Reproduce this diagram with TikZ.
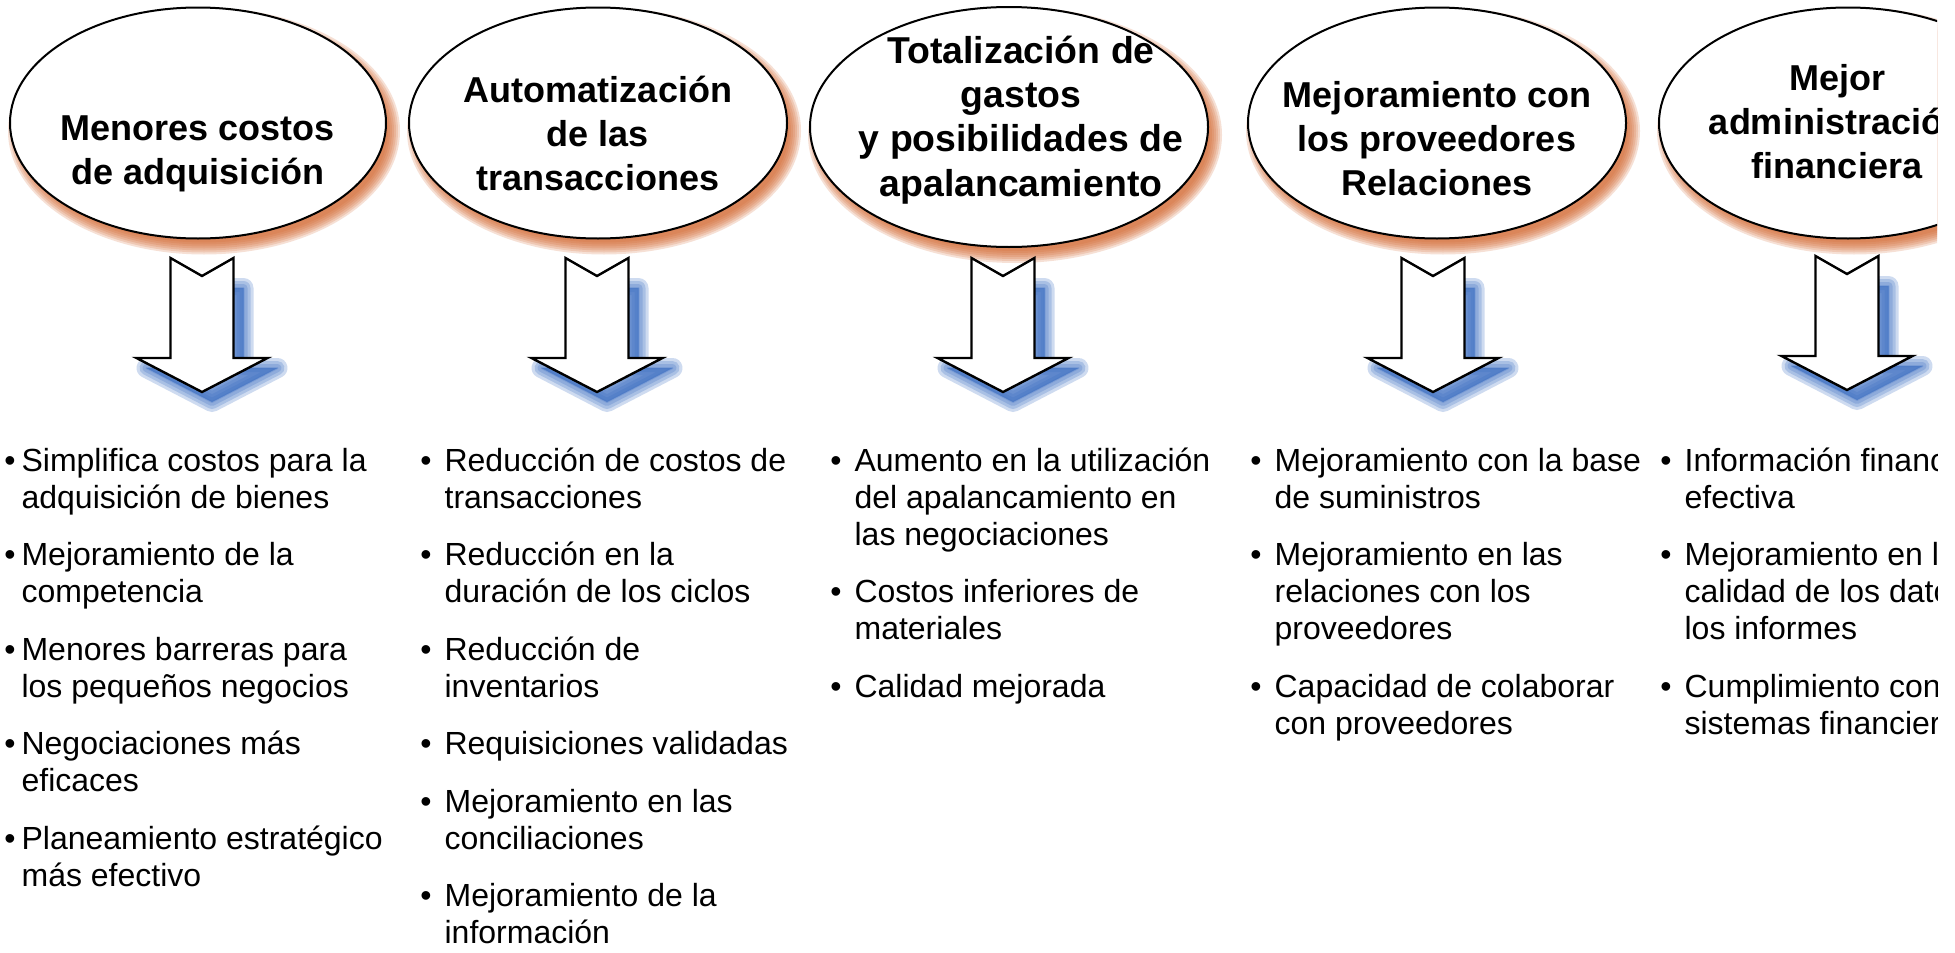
\documentclass[tikz,border=0pt]{standalone}
\usepackage{fontspec}
\setmainfont{Liberation Sans}
\usetikzlibrary{shapes.geometric}
\usetikzlibrary{positioning}

\definecolor{shadoworange}{RGB}{212,104,48}
\definecolor{shadowblue}{RGB}{62,112,196}

\tikzset{
  goal/.style={ellipse, draw=black, line width=1pt, fill=white, inner sep=0pt},
  goaltitle/.style={font=\bfseries\fontsize{18}{22}\selectfont, inner sep=0pt, anchor=base},
  benefits/.style={font=\fontsize{16}{18.5}\selectfont, inner sep=0pt, anchor=base west},
  bigarrow/.pic={
    \foreach \w in {10pt,7pt,4pt,1pt}
      \filldraw[shadowblue, opacity=0.25, line width=\w, line join=round]
        (-21.5,30) -- (41.5,30) -- (41.5,110) -- (75.5,110) -- (10,144) -- (-55.5,110) -- (-21.5,110) -- cycle;
    \filldraw[fill=white, draw=black, line width=1.2pt]
      (-31.5,0) -- (0,18) -- (31.5,0) -- (31.5,100) -- (65.5,100) -- (0,134) -- (-65.5,100) -- (-31.5,100) -- cycle;
  }
}

\begin{document}
\begin{tikzpicture}[x=0.5pt,y=-0.5pt]
\useasboundingbox (0,0) rectangle (1955,953);
\fill[white] (0,0) rectangle (1955,953);
\clip (0,0) rectangle (1937,953);

% ellipses with their shadows
\foreach \n/\cx/\cy/\rx/\ry in {1/198/123/188/115.5, 2/598/123/189/115.5, 3/1009/127/199/120, 4/1437/123/189/115.5, 5/1848/123/189/115.5}{
  \foreach \d in {0,2,...,12}
    \fill[shadoworange, opacity=0.2] (\cx+6,\cy+8) ellipse [x radius=\rx+\d-4, y radius=\ry+\d-4];
  \node[goal, minimum width=\rx pt, minimum height=\ry pt] (e\n) at (\cx,\cy) {};
}

\node[goaltitle] (t1) at (198,140) {\begin{tabular}[t]{@{}c@{}}Menores costos\\de adquisición\end{tabular}};
\node[goaltitle] (t2) at (598,102) {\begin{tabular}[t]{@{}c@{}}Automatización\\de las\\transacciones\end{tabular}};
\node[goaltitle, font=\bfseries\fontsize{18.7}{22.2}\selectfont] (t3) at (1021,63) {\begin{tabular}[t]{@{}c@{}}Totalización de\\gastos\\y posibilidades de\\apalancamiento\end{tabular}};
\node[goaltitle] (t4) at (1437,107) {\begin{tabular}[t]{@{}c@{}}Mejoramiento con\\los proveedores\\Relaciones\end{tabular}};
\node[goaltitle] (t5) at (1837,90) {\begin{tabular}[t]{@{}c@{}}Mejor\\administración\\financiera\end{tabular}};

% arrows
\pic at (202,258) {bigarrow};
\pic at (597,258) {bigarrow};
\pic at (1003,258) {bigarrow};
\pic at (1433,258) {bigarrow};
\pic at (1847,256) {bigarrow};

% lists
\node[benefits] (l1) at (4,471) {\begin{tabular}[t]{@{}l@{\hspace{3pt}}l@{}}
\textbullet & Simplifica costos para la\\ & adquisición de bienes\\[10.25pt]
\textbullet & Mejoramiento de la\\ & competencia\\[10.25pt]
\textbullet & Menores barreras para\\ & los pequeños negocios\\[10.25pt]
\textbullet & Negociaciones más\\ & eficaces\\[10.25pt]
\textbullet & Planeamiento estratégico\\ & más efectivo
\end{tabular}};
\node[benefits] (l2) at (420,471) {\begin{tabular}[t]{@{}l@{\hspace{6.5pt}}l@{}}
\textbullet & Reducción de costos de\\ & transacciones\\[10.25pt]
\textbullet & Reducción en la\\ & duración de los ciclos\\[10.25pt]
\textbullet & Reducción de\\ & inventarios\\[10.25pt]
\textbullet & Requisiciones validadas\\[10.25pt]
\textbullet & Mejoramiento en las\\ & conciliaciones\\[10.25pt]
\textbullet & Mejoramiento de la\\ & información
\end{tabular}};
\node[benefits] (l3) at (830,471) {\begin{tabular}[t]{@{}l@{\hspace{6.5pt}}l@{}}
\textbullet & Aumento en la utilización\\ & del apalancamiento en\\ & las negociaciones\\[10.25pt]
\textbullet & Costos inferiores de\\ & materiales\\[10.25pt]
\textbullet & Calidad mejorada
\end{tabular}};
\node[benefits] (l4) at (1250,471) {\begin{tabular}[t]{@{}l@{\hspace{6.5pt}}l@{}}
\textbullet & Mejoramiento con la base\\ & de suministros\\[10.25pt]
\textbullet & Mejoramiento en las\\ & relaciones con los\\ & proveedores\\[10.25pt]
\textbullet & Capacidad de colaborar\\ & con proveedores
\end{tabular}};
\node[benefits] (l5) at (1660,471) {\begin{tabular}[t]{@{}l@{\hspace{6.5pt}}l@{}}
\textbullet & Información financiera\\ & efectiva\\[10.25pt]
\textbullet & Mejoramiento en la\\ & calidad de los datos\\ & los informes\\[10.25pt]
\textbullet & Cumplimiento con\\ & sistemas financieros
\end{tabular}};
\end{tikzpicture}
\end{document}
